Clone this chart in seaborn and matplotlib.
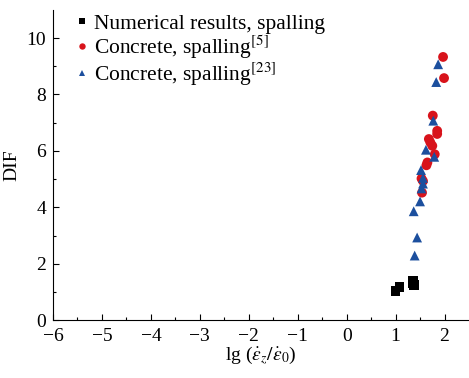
import matplotlib
matplotlib.use("Agg")
import matplotlib.pyplot as plt
import seaborn as sns
import pandas as pd

# ---------------------------
# Data
# ---------------------------
num_x = [1.00, 1.08, 1.35, 1.37, 1.36]
num_y = [1.03, 1.18, 1.40, 1.24, 1.31]

c5_x = [1.97, 1.99, 1.76, 1.85, 1.85, 1.68, 1.71, 1.75, 1.80, 1.65, 1.63, 1.53, 1.56, 1.54]
c5_y = [9.33, 8.58, 7.25, 6.71, 6.60, 6.42, 6.30, 6.18, 5.88, 5.59, 5.49, 5.02, 4.93, 4.52]

c23_x = [1.39, 1.44, 1.37, 1.50, 1.53, 1.56, 1.56, 1.52, 1.79, 1.62, 1.77, 1.83, 1.87]
c23_y = [2.29, 2.93, 3.86, 4.21, 4.67, 4.84, 5.04, 5.32, 5.79, 6.04, 7.07, 8.44, 9.07]

labels = ["Numerical results, spalling",
          r"Concrete, spalling$^{[5]}$",
          r"Concrete, spalling$^{[23]}$"]

df = pd.concat([
    pd.DataFrame({"x": num_x, "y": num_y, "set": labels[0]}),
    pd.DataFrame({"x": c5_x, "y": c5_y, "set": labels[1]}),
    pd.DataFrame({"x": c23_x, "y": c23_y, "set": labels[2]}),
])

# ---------------------------
# Style
# ---------------------------
sns.set_style("ticks")
plt.rcParams["font.family"] = ["Liberation Serif", "DejaVu Serif"]
plt.rcParams["mathtext.fontset"] = "stix"
plt.rcParams["xtick.direction"] = "in"
plt.rcParams["ytick.direction"] = "in"
plt.rcParams["axes.edgecolor"] = "black"
plt.rcParams["xtick.color"] = "black"
plt.rcParams["ytick.color"] = "black"
plt.rcParams["text.color"] = "black"
plt.rcParams["axes.labelcolor"] = "black"

fig = plt.figure(figsize=(4.69, 3.78), dpi=100)
ax = fig.add_axes([0.113, 0.153, 0.887, 0.821])

sns.scatterplot(data=df, x="x", y="y", hue="set", style="set",
                palette={labels[0]: "black", labels[1]: "#d8131b", labels[2]: "#1c4f9e"},
                markers={labels[0]: "s", labels[1]: "o", labels[2]: "^"},
                s=50, linewidth=0, ax=ax)

ax.set_xlim(-6, 2.5)
ax.set_ylim(0, 11)
ax.set_xticks(range(-6, 3))
ax.set_xticklabels([str(v).replace("-", "\u2212") for v in range(-6, 3)])
ax.set_yticks(range(0, 11, 2))
ax.set_xticks([v + 0.5 for v in range(-6, 2)], minor=True)
ax.set_yticks(range(1, 11, 2), minor=True)
ax.tick_params(labelsize=14, length=4, width=0.8)
ax.tick_params(axis="x", pad=6)
ax.tick_params(axis="y", pad=5)
ax.tick_params(which="minor", length=2.5, width=0.8)
sns.despine(ax=ax)

ax.set_xlabel(r"lg ($\dot{\varepsilon}_z/\dot{\varepsilon}_0$)", fontsize=14, labelpad=-1)
ax.set_ylabel("DIF", fontsize=14, labelpad=4)

leg = ax.legend(loc="upper left", bbox_to_anchor=(0.02, 1.03), frameon=False,
                fontsize=15.5, handlelength=0.7, handletextpad=0.2,
                labelspacing=0.0, borderaxespad=0.2, markerscale=0.65)

fig.savefig("out.png", dpi=100)
